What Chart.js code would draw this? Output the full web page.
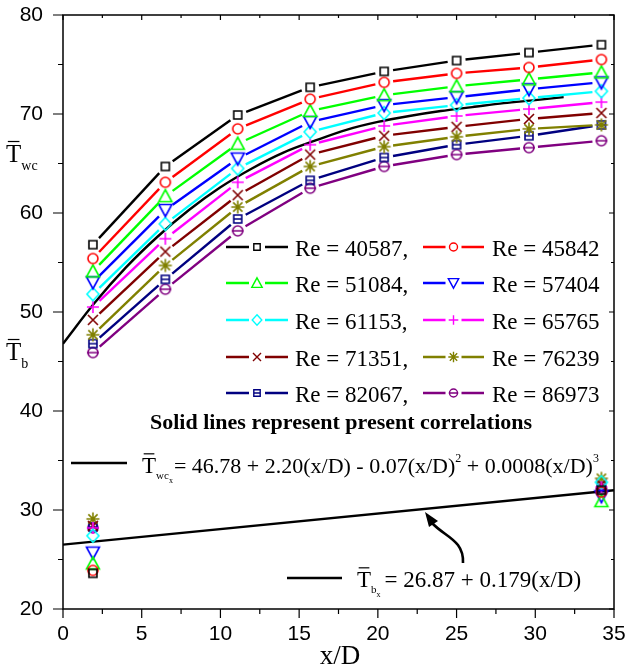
<!DOCTYPE html>
<html><head><meta charset="utf-8">
<script src="https://cdn.jsdelivr.net/npm/chart.js@4/dist/chart.umd.min.js"></script>
<style>html,body{margin:0;padding:0;background:#fff;}canvas{display:block;}</style>
</head><body>
<canvas id="c" width="628" height="666"></canvas>
<script>
// ---------- data ----------
const xPositions = [1.9, 6.5, 11.1, 15.7, 20.4, 25.0, 29.6, 34.2];
const reLabels = ['Re = 40587,', 'Re = 45842', 'Re = 51084,', 'Re = 57404', 'Re = 61153,',
                  'Re = 65765', 'Re = 71351,', 'Re = 76239', 'Re = 82067,', 'Re = 86973'];
const wall_40587 = [56.8, 64.7, 69.9, 72.7, 74.3, 75.4, 76.2, 77.0];
const wall_45842 = [55.4, 63.1, 68.5, 71.5, 73.2, 74.1, 74.7, 75.5];
const wall_51084 = [54.1, 61.7, 67.0, 70.3, 71.9, 72.8, 73.5, 74.2];
const wall_57404 = [53.0, 60.3, 65.5, 69.2, 70.9, 71.7, 72.5, 73.2];
const wall_61153 = [51.8, 58.9, 64.5, 68.2, 70.1, 70.9, 71.6, 72.3];
const wall_65765 = [50.5, 57.4, 63.1, 66.9, 68.8, 69.8, 70.5, 71.2];
const wall_71351 = [49.2, 56.1, 61.8, 65.9, 67.8, 68.7, 69.5, 70.1];
const wall_76239 = [47.7, 54.7, 60.6, 64.7, 66.7, 67.7, 68.5, 68.9];
const wall_82067 = [46.8, 53.3, 59.4, 63.3, 65.6, 66.9, 67.8, 68.9];
const wall_86973 = [45.9, 52.3, 58.2, 62.5, 64.7, 65.9, 66.6, 67.3];

const bulkX = [1.9, 34.2];
const bulk_40587 = [23.6, 32.0];
const bulk_45842 = [23.9, 31.8];
const bulk_51084 = [24.6, 30.9];
const bulk_57404 = [25.7, 31.4];
const bulk_61153 = [27.4, 32.8];
const bulk_65765 = [28.2, 32.3];
const bulk_71351 = [28.4, 32.6];
const bulk_76239 = [29.1, 33.2];
const bulk_82067 = [28.3, 32.4];
const bulk_86973 = [28.2, 32.1];

const corrWallX = [0, 2, 4, 6, 8, 10, 12, 14, 16, 18, 20, 22, 24, 26, 28, 30, 31.8];
const corrWallY = [46.8, 50.9, 54.5, 57.6, 60.3, 62.6, 64.5, 66.1, 67.3, 68.4, 69.2, 69.8, 70.3, 70.7, 71.1, 71.4, 71.7];
const corrBulkX = [0, 35];
const corrBulkY = [26.5, 32.0];

const xTickValues = [0, 5, 10, 15, 20, 25, 30, 35];
const yTickValues = [20, 30, 40, 50, 60, 70, 80];

// ---------- styles ----------
const wallSeries = [wall_40587, wall_45842, wall_51084, wall_57404, wall_61153, wall_65765, wall_71351, wall_76239, wall_82067, wall_86973];
const bulkSeries = [bulk_40587, bulk_45842, bulk_51084, bulk_57404, bulk_61153, bulk_65765, bulk_71351, bulk_76239, bulk_82067, bulk_86973];
const colors = ['#000000', '#ff0000', '#00ff00', '#0000ff', '#00ffff', '#ff00ff', '#800000', '#808000', '#000080', '#800080'];
const kinds = ['square', 'circle', 'tri', 'dtri', 'diamond', 'plus', 'cross', 'star', 'sqline', 'cirline'];
const GAP = 9;

function drawMarker(ctx, kind, x, y, s) {
  ctx.beginPath();
  const a = 6.5 * s, b = 5.5 * s;
  switch (kind) {
    case 'square': ctx.rect(x - 4 * s, y - 4 * s, 8 * s, 8 * s); break;
    case 'circle': ctx.arc(x, y, 5 * s, 0, 2 * Math.PI); break;
    case 'tri': ctx.moveTo(x, y - a); ctx.lineTo(x + a, y + b); ctx.lineTo(x - a, y + b); ctx.closePath(); break;
    case 'dtri': ctx.moveTo(x, y + a); ctx.lineTo(x + a, y - b); ctx.lineTo(x - a, y - b); ctx.closePath(); break;
    case 'diamond': ctx.moveTo(x, y - 6.5 * s); ctx.lineTo(x + 6 * s, y); ctx.lineTo(x, y + 6.5 * s); ctx.lineTo(x - 6 * s, y); ctx.closePath(); break;
    case 'plus': ctx.moveTo(x - 6 * s, y); ctx.lineTo(x + 6 * s, y); ctx.moveTo(x, y - 6 * s); ctx.lineTo(x, y + 6 * s); break;
    case 'cross': { const d = 5 * s; ctx.moveTo(x - d, y - d); ctx.lineTo(x + d, y + d); ctx.moveTo(x + d, y - d); ctx.lineTo(x - d, y + d); break; }
    case 'star': { const d = 4.6 * s, e = 6.5 * s; ctx.moveTo(x - e, y); ctx.lineTo(x + e, y); ctx.moveTo(x, y - e); ctx.lineTo(x, y + e);
      ctx.moveTo(x - d, y - d); ctx.lineTo(x + d, y + d); ctx.moveTo(x + d, y - d); ctx.lineTo(x - d, y + d); break; }
    case 'sqline': ctx.rect(x - 4 * s, y - 4 * s, 8 * s, 8 * s); ctx.moveTo(x - 4 * s, y); ctx.lineTo(x + 4 * s, y); break;
    case 'cirline': ctx.arc(x, y, 5 * s, 0, 2 * Math.PI); ctx.moveTo(x - 6 * s, y); ctx.lineTo(x + 6 * s, y); break;
  }
  ctx.stroke();
}
function markerCanvas(kind, color) {
  const cv = document.createElement('canvas');
  cv.width = 18; cv.height = 18;
  const c = cv.getContext('2d');
  c.strokeStyle = color; c.lineWidth = 1.6;
  drawMarker(c, kind, 9, 9, 1);
  return cv;
}

const gapSegment = {
  borderDash: ctx => {
    const dx = ctx.p1.x - ctx.p0.x, dy = ctx.p1.y - ctx.p0.y;
    const L = Math.hypot(dx, dy);
    if (L <= 2 * GAP) return [0, L + 10];
    return [0, GAP, L - 2 * GAP, GAP + 1000];
  }
};

const datasets = [];
wallSeries.forEach((vals, i) => {
  datasets.push({
    label: reLabels[i],
    data: xPositions.map((x, k) => ({x, y: vals[k]})),
    borderColor: colors[i], borderWidth: 2.4, tension: 0,
    pointStyle: markerCanvas(kinds[i], colors[i]), pointRadius: 5,
    segment: gapSegment
  });
});
bulkSeries.forEach((vals, i) => {
  datasets.push({
    label: reLabels[i] + ' bulk',
    data: bulkX.map((x, k) => ({x, y: vals[k]})),
    showLine: false, borderColor: colors[i],
    pointStyle: markerCanvas(kinds[i], colors[i]), pointRadius: 5
  });
});
datasets.push({
  label: 'Twc correlation',
  data: corrWallX.map((x, k) => ({x, y: corrWallY[k]})),
  borderColor: '#000', borderWidth: 2.4, pointRadius: 0, cubicInterpolationMode: 'monotone'
});
datasets.push({
  label: 'Tb correlation',
  data: corrBulkX.map((x, k) => ({x, y: corrBulkY[k]})),
  borderColor: '#000', borderWidth: 2.4, pointRadius: 0
});

// ---------- text helpers ----------
const SERIF = 'Liberation Serif, Times New Roman, serif';
function runs(ctx, x, y, parts) {
  for (const p of parts) {
    ctx.font = (p.bold ? 'bold ' : '') + p.size + 'px ' + SERIF;
    const w = ctx.measureText(p.t).width;
    ctx.fillText(p.t, x, y + (p.dy || 0));
    if (p.over) {
      ctx.save(); ctx.lineWidth = 1.2; ctx.beginPath();
      const top = y + (p.dy || 0) - p.size * 0.66 - 4;
      ctx.moveTo(x + w * 0.12, top); ctx.lineTo(x + w * 0.88, top); ctx.stroke(); ctx.restore();
    }
    x += w + (p.after || 0);
  }
  return x;
}

const overlay = {
  id: 'overlay',
  afterDraw(chart) {
    const ctx = chart.ctx, a = chart.chartArea, xs = chart.scales.x, ys = chart.scales.y;
    ctx.save();
    ctx.strokeStyle = '#000'; ctx.fillStyle = '#000';
    // frame
    ctx.lineWidth = 1.5;
    ctx.strokeRect(a.left, a.top, a.right - a.left, a.bottom - a.top);
    // ticks
    ctx.lineWidth = 1.2;
    ctx.beginPath();
    for (let v = 20; v <= 80; v += 5) {
      const p = ys.getPixelForValue(v), major = v % 10 === 0;
      ctx.moveTo(a.left, p); ctx.lineTo(a.left - (major ? 10 : 5), p);
      ctx.moveTo(a.right, p); ctx.lineTo(a.right - (major ? 5 : 3), p);
    }
    for (let v = 0; v <= 35; v += 2.5) {
      const p = xs.getPixelForValue(v), major = v % 5 === 0;
      ctx.moveTo(p, a.bottom); ctx.lineTo(p, a.bottom + (major ? 9 : 5));
      ctx.moveTo(p, a.top); ctx.lineTo(p, a.top + (major ? 5 : 3));
    }
    ctx.stroke();

    // legend
    const rowsY = [247, 283, 320, 357, 393];
    const cols = [{l0: 226, l1: 288, t: 295}, {l0: 423, l1: 484, t: 492}];
    ctx.textBaseline = 'alphabetic'; ctx.textAlign = 'left';
    reLabels.forEach((lab, i) => {
      const r = Math.floor(i / 2), c = cols[i % 2], y = rowsY[r];
      const mx = (c.l0 + c.l1) / 2;
      ctx.strokeStyle = colors[i]; ctx.lineWidth = 2.6;
      ctx.beginPath(); ctx.moveTo(c.l0, y); ctx.lineTo(mx - 8, y); ctx.moveTo(mx + 8, y); ctx.lineTo(c.l1, y); ctx.stroke();
      ctx.lineWidth = 1.4;
      drawMarker(ctx, kinds[i], mx, y, 0.8);
      ctx.fillStyle = '#000';
      ctx.font = '23px ' + SERIF;
      ctx.fillText(lab, c.t, y + 9);
    });

    // note
    ctx.fillStyle = '#000'; ctx.strokeStyle = '#000';
    ctx.font = 'bold 22px ' + SERIF; ctx.textAlign = 'center';
    ctx.fillText('Solid lines represent present correlations', 341, 429);
    ctx.textAlign = 'left';

    // equation 1
    ctx.lineWidth = 2.6;
    ctx.beginPath(); ctx.moveTo(71, 463); ctx.lineTo(127, 463); ctx.stroke();
    runs(ctx, 142, 473, [
      {t: 'T', size: 23, over: true},
      {t: 'wc', size: 11, dy: 6},
      {t: 'x', size: 8, dy: 10, after: 1},
      {t: '= 46.78 + 2.20(x/D) - 0.07(x/D)', size: 22},
      {t: '2', size: 12, dy: -11},
      {t: ' + 0.0008(x/D)', size: 22},
      {t: '3', size: 12, dy: -11}
    ]);

    // equation 2
    ctx.beginPath(); ctx.moveTo(287, 578); ctx.lineTo(342, 578); ctx.stroke();
    runs(ctx, 357, 587, [
      {t: 'T', size: 23, over: true},
      {t: 'b', size: 11, dy: 6},
      {t: 'x', size: 8, dy: 10, after: 4},
      {t: '= 26.87 + 0.179(x/D)', size: 23}
    ]);

    // arrow
    ctx.lineWidth = 2.6;
    ctx.beginPath(); ctx.moveTo(463, 563);
    ctx.bezierCurveTo(464, 540, 445, 537, 432, 523);
    ctx.stroke();
    ctx.beginPath();
    ctx.moveTo(425, 512); ctx.lineTo(438, 521); ctx.lineTo(429, 527); ctx.closePath(); ctx.fill();

    // axis titles
    ctx.font = '27px ' + SERIF; ctx.textAlign = 'center';
    ctx.fillText('x/D', 340, 664);
    ctx.textAlign = 'left';
    runs(ctx, 6, 162, [{t: 'T', size: 25, over: true}, {t: 'wc', size: 14, dy: 8}]);
    runs(ctx, 6, 360, [{t: 'T', size: 25, over: true}, {t: 'b', size: 14, dy: 8}]);
    ctx.restore();
  }
};

new Chart(document.getElementById('c'), {
  type: 'line',
  data: {datasets},
  options: {
    responsive: false, animation: false,
    layout: {padding: {top: 15, right: 14, left: 0, bottom: 0}},
    plugins: {legend: {display: false}, tooltip: {enabled: false}},
    scales: {
      x: {
        type: 'linear', min: 0, max: 35,
        afterFit: s => { s.height = 57; },
        afterBuildTicks: s => { s.ticks = xTickValues.map(v => ({value: v})); },
        grid: {display: true, color: 'rgba(0,0,0,0)', drawOnChartArea: false, drawTicks: true, tickLength: 13},
        border: {display: false},
        ticks: {color: '#000', font: {family: 'Liberation Sans', size: 21}, padding: 0, maxRotation: 0}
      },
      y: {
        type: 'linear', min: 20, max: 80,
        afterFit: s => { s.width = 63; },
        afterBuildTicks: s => { s.ticks = yTickValues.map(v => ({value: v})); },
        grid: {display: true, color: 'rgba(0,0,0,0)', drawOnChartArea: false, drawTicks: true, tickLength: 20},
        border: {display: false},
        ticks: {color: '#000', font: {family: 'Liberation Sans', size: 21}, padding: 0}
      }
    }
  },
  plugins: [overlay]
});
</script>
</body></html>
